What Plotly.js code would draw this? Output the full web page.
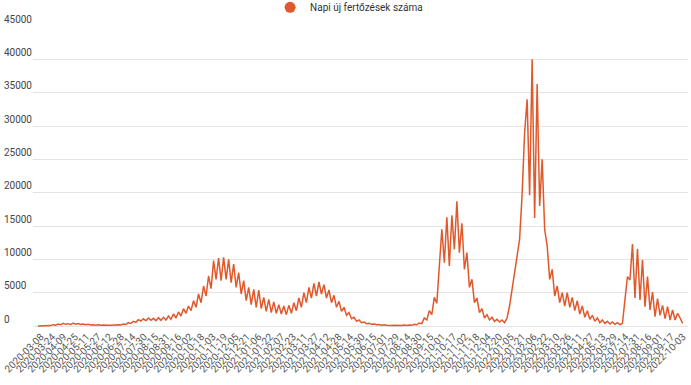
<!DOCTYPE html>
<html>
<head>
<meta charset="utf-8">
<script src="https://cdn.plot.ly/plotly-3.0.1.min.js"></script>
<style>html,body{margin:0;padding:0;background:#fff;}#chart{width:691px;height:385px;}</style>
</head>
<body>
<div id="chart"></div>
<script>
// Series name
const seriesName = 'Napi új fertőzések száma';

// x-axis tick labels (one every 16 categories, first at category 4)
const tickLabels = [
  '2020-03-08','2020-03-24','2020-04-09','2020-04-25','2020-05-11','2020-05-27','2020-06-12','2020-06-28',
  '2020-07-14','2020-07-30','2020-08-15','2020-08-31','2020-09-16','2020-10-02','2020-10-18','2020-11-03',
  '2020-11-19','2020-12-05','2020-12-21',
  '2021-01-06','2021-01-22','2021-02-07','2021-02-23','2021-03-11','2021-03-27','2021-04-12','2021-04-28',
  '2021-05-14','2021-05-30','2021-06-15','2021-07-01','2021-07-29','2021-08-14','2021-08-30','2021-09-15',
  '2021-10-01','2021-10-17','2021-11-02','2021-11-18','2021-12-04','2021-12-20',
  '2022-01-05','2022-01-21','2022-02-06','2022-02-22','2022-03-10','2022-03-26','2022-04-11','2022-04-27',
  '2022-05-13','2022-05-29','2022-07-14','2022-07-31','2022-08-16','2022-09-01','2022-09-17','2022-10-03'
];
const firstTickCategory = 4;
const categoriesPerTick = 16;

// Daily new infections, every 3.5 categories (half a week)
const categoriesPerSample = 3.5;
const dailyCases = [
  5, 10, 20, 40, 80, 60, 200, 120, 300, 180,
  400, 250, 350, 200, 450, 280, 380, 220, 300, 180,
  250, 150, 200, 120, 180, 100, 150, 90, 130, 100,
  150, 110, 200, 150, 300, 220, 500, 380, 700, 550,
  950, 750, 1100, 800, 1200, 850, 1150, 800, 1250, 850,
  1300, 900, 1500, 1000, 1800, 1200, 2100, 1500, 2600, 1900,
  3000, 2300, 3800, 2800, 4800, 3500, 6000, 4500, 7500, 5600,
  9800, 7000, 10200, 6800, 10300, 7000, 10000, 6500, 9300, 5800,
  8000, 4800, 6800, 3800, 5800, 3200, 5500, 2800, 5400, 2600,
  4300, 2200, 4000, 2000, 3600, 1900, 3200, 1800, 3000, 1700,
  3100, 1900, 3500, 2300, 4200, 2800, 5000, 3500, 5800, 4200,
  6400, 4500, 6600, 4800, 6200, 4200, 5400, 3500, 4600, 2800,
  3700, 2200, 2800, 1600, 2000, 1100, 1300, 700, 900, 500,
  600, 350, 400, 250, 300, 180, 220, 130, 180, 100,
  150, 90, 130, 80, 120, 70, 130, 80, 150, 100,
  250, 180, 450, 350, 1200, 900, 2300, 1700, 4300, 3400,
  9000, 14500, 9500, 16300, 9000, 16600, 11500, 18700, 11000, 15400,
  8500, 11000, 5800, 7000, 3500, 4200, 2000, 2600, 1200, 1700,
  900, 1300, 700, 1000, 600, 900, 500, 1200, 3000, 5500,
  8000, 9900, 13000, 19700, 29000, 34000, 19600, 40000, 16200, 36300,
  18000, 25000, 14500, 12000, 7000, 8500, 4500, 6000, 3500, 5000,
  3000, 5000, 2800, 4300, 2300, 3800, 1800, 3000, 1300, 2300,
  1000, 1600, 700, 1200, 500, 900, 400, 700, 300, 600,
  250, 500, 200, 400, 3900, 7400, 6900, 12300, 4200, 11600,
  3900, 9900, 2900, 7400, 2400, 5100, 1400, 4100, 1600, 3100,
  1100, 2900, 900, 2400, 900, 1900, 1200, 400
];

// y-axis ticks
const yTickValues = [0, 5000, 10000, 15000, 20000, 25000, 30000, 35000, 40000, 45000];

const lineColor = '#e1582a';

const xPositions = dailyCases.map((_, i) => i * categoriesPerSample);
const tickPositions = tickLabels.map((_, k) => firstTickCategory + k * categoriesPerTick);
const yTickText = yTickValues.map(v => String(v).padEnd(5, '\u2007'));

const traces = [
  {
    x: xPositions, y: dailyCases, type: 'scatter', mode: 'lines',
    line: {color: lineColor, width: 1.5}, showlegend: false, hoverinfo: 'y', name: seriesName
  },
  {
    x: [null], y: [null], type: 'scatter', mode: 'markers',
    marker: {color: lineColor, size: 11}, name: seriesName, showlegend: true
  }
];

const layout = {
  width: 691, height: 385,
  margin: {l: 33, r: 3, t: 26, b: 57, autoexpand: false},
  paper_bgcolor: '#fff', plot_bgcolor: '#fff',
  font: {family: 'Roboto, sans-serif', size: 10, color: '#444'},
  showlegend: true,
  legend: {
    orientation: 'h', x: 0.362, xanchor: 'left', y: 1.11, yanchor: 'top',
    font: {family: 'Roboto, sans-serif', size: 10, color: '#333'},
    bgcolor: 'rgba(0,0,0,0)'
  },
  xaxis: {
    type: 'linear', range: [-7, 907],
    tickmode: 'array', tickvals: tickPositions, ticktext: tickLabels,
    tickangle: -45, showgrid: false, zeroline: false, showline: false, ticks: '',
    tickfont: {family: 'Roboto, sans-serif', size: 10, color: '#555'}
  },
  yaxis: {
    range: [-300, 45000],
    tickmode: 'array', tickvals: yTickValues, ticktext: yTickText,
    ticklabelposition: 'outside top',
    showgrid: true, gridcolor: '#e3e3e3', gridwidth: 1,
    zeroline: false, showline: false, ticks: '',
    tickfont: {family: 'Roboto, sans-serif', size: 10, color: '#444'}
  }
};

Plotly.newPlot('chart', traces, layout, {displayModeBar: false, staticPlot: true});
</script>
</body>
</html>
